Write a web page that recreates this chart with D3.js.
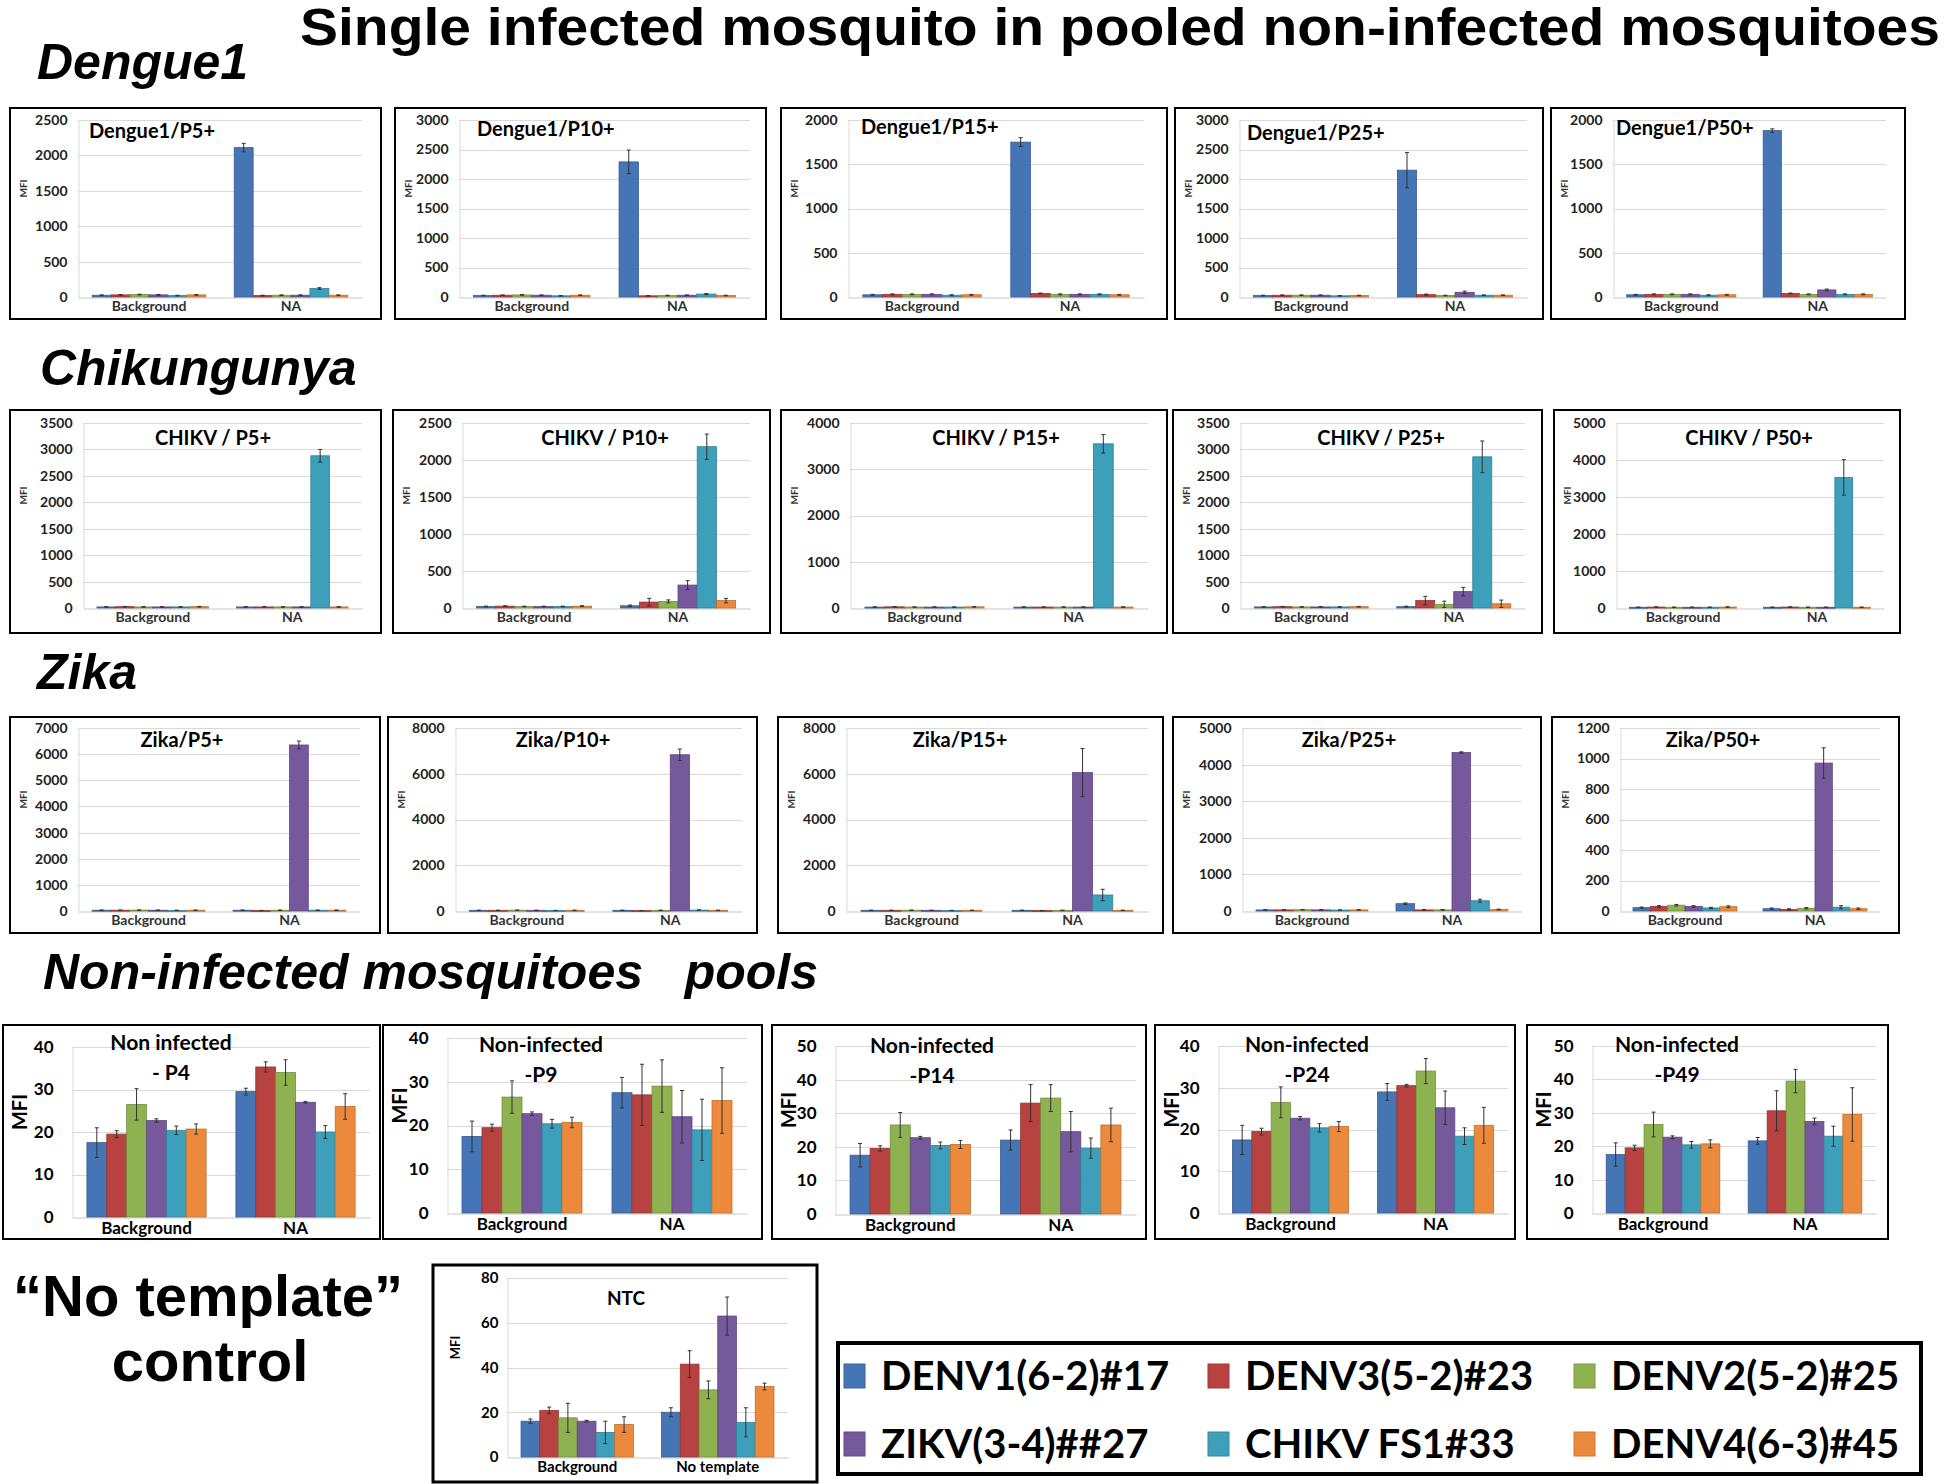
<!DOCTYPE html>
<html><head><meta charset="utf-8">
<script src="https://cdn.jsdelivr.net/npm/d3@7"></script>
<style>body{margin:0;background:#fff}svg{display:block}</style>
</head><body>
<svg id="c" width="1946" height="1484"></svg>
<script>
// ---------------- DATA ----------------
const seriesNames = ["DENV1(6-2)#17","DENV3(5-2)#23","DENV2(5-2)#25","ZIKV(3-4)##27","CHIKV FS1#33","DENV4(6-3)#45"];
const seriesColors = ["#4575b4","#b8423f","#8fb251","#76599d","#3e9fbb","#eb8a3c"];
const groupNames = ["Background","NA"];
const ntcGroupNames = ["Background","No template"];

// Dengue1 row
const dengueTitles = ["Dengue1/P5+","Dengue1/P10+","Dengue1/P15+","Dengue1/P25+","Dengue1/P50+"];
const dengueYMax = [2500,3000,2000,3000,2000];
const dengueYStep = [500,500,500,500,500];
const dengueBackground = [[25,30,35,30,20,30],[25,30,35,30,20,30],[25,30,30,30,20,25],[25,30,30,30,20,25],[25,30,30,30,20,25]];
const dengueBackgroundErr = [[5,5,5,5,5,5],[5,5,5,5,5,5],[5,5,5,5,5,5],[5,5,5,5,5,5],[5,5,5,5,5,5]];
const dengueNA = [[2110,20,25,25,120,25],[2290,20,25,30,50,25],[1750,40,30,30,30,25],[2150,40,25,80,30,30],[1880,40,30,80,30,30]];
const dengueNAErr = [[60,5,5,5,12,5],[200,5,5,5,10,5],[50,5,5,5,5,5],[300,10,5,20,5,5],[20,5,5,10,5,5]];

// Chikungunya row
const chikTitles = ["CHIKV / P5+","CHIKV / P10+","CHIKV / P15+","CHIKV / P25+","CHIKV / P50+"];
const chikYMax = [3500,2500,4000,3500,5000];
const chikYStep = [500,500,1000,500,1000];
const chikBackground = [[20,25,20,20,20,25],[20,25,20,20,20,25],[20,25,20,20,20,25],[20,25,20,20,20,25],[20,25,20,20,20,25]];
const chikBackgroundErr = [[5,5,5,5,5,5],[5,5,5,5,5,5],[5,5,5,5,5,5],[5,5,5,5,5,5],[5,5,5,5,5,5]];
const chikNA = [[20,20,20,20,2880,20],[30,80,90,310,2180,100],[20,20,20,20,3550,20],[25,140,70,310,2860,80],[20,25,20,20,3530,20]];
const chikNAErr = [[5,5,5,5,120,5],[10,50,20,60,170,30],[5,5,5,5,200,5],[10,80,60,80,300,70],[5,5,5,5,480,5]];

// Zika row
const zikaTitles = ["Zika/P5+","Zika/P10+","Zika/P15+","Zika/P25+","Zika/P50+"];
const zikaYMax = [7000,8000,8000,5000,1200];
const zikaYStep = [1000,2000,2000,1000,200];
const zikaBackground = [[30,30,35,30,25,30],[30,30,35,30,25,30],[30,30,35,30,25,30],[30,30,35,30,25,30],[22,30,38,30,20,28]];
const zikaBackgroundErr = [[5,5,5,5,5,5],[5,5,5,5,5,5],[5,5,5,5,5,5],[5,5,5,5,5,5],[4,5,5,5,4,6]];
const zikaNA = [[30,20,30,6350,30,30],[30,20,30,6830,40,30],[30,20,30,6050,700,30],[200,30,30,4330,280,40],[15,10,18,970,25,15]];
const zikaNAErr = [[5,5,5,150,5,5],[5,5,5,250,5,5],[5,5,5,1050,250,5],[20,10,10,20,40,10],[5,5,5,100,10,5]];

// Non-infected mosquito pools row
const niTitles = [["Non infected","- P4"],["Non-infected","-P9"],["Non-infected","-P14"],["Non-infected","-P24"],["Non-infected","-P49"]];
const niYMax = [40,40,50,40,50];
const niYStep = [10,10,10,10,10];
const niBackground = [[17.5,19.5,26.5,22.7,20.4,20.7],[17.5,19.5,26.5,22.7,20.4,20.7],[17.5,19.5,26.5,22.7,20.4,20.7],[17.5,19.5,26.5,22.7,20.4,20.7],[17.5,19.5,26.5,22.7,20.4,20.7]];
const niBackgroundErr = [[3.5,0.8,3.7,0.4,1,1.2],[3.5,0.8,3.7,0.4,1,1.2],[3.5,0.8,3.7,0.4,1,1.2],[3.5,0.8,3.7,0.4,1,1.2],[3.5,0.8,3.7,0.4,1,1.2]];
const niNA = [[29.5,35.3,34,27,20,26],[27.5,27,29,22,19,25.7],[22,33,34.5,24.5,19.6,26.5],[29,30.5,34,25.2,18.4,21],[21.6,30.6,39.5,27.4,23,29.5]];
const niNAErr = [[0.8,1.2,3,0.2,1.5,3],[3.5,7,6,6,7,7.5],[3,5.5,4,6,3,5],[2,0.3,3,4,2,4.3],[1,6,3.5,1,3,8]];

// No template control
const ntcTitle = "NTC";
const ntcYMax = 80, ntcYStep = 20;
const ntcBackground = [16,20.8,17.5,16,11,14.5];
const ntcBackgroundErr = [1,1.5,6.5,0.4,5,3.5];
const ntcNoTemplate = [20,41.5,30,63,15.5,31.5];
const ntcNoTemplateErr = [2,6,4,8.5,6.5,1.5];

// ---------------- LAYOUT ----------------
const svg = d3.select("#c");
const PANEL_FONT = "Lato, 'Open Sans', sans-serif";
const HEAD_FONT = "'Liberation Sans', Arial, sans-serif";

const layouts = {
  dengue: {boxY:[[108,319]], plotY:[[120,297]],
    boxX:[[10,381],[395,766],[781,1167],[1175,1543],[1551,1905]],
    plotX:[[78,362],[459,750],[848,1144],[1239,1527],[1613,1886]],
    titleX:[89,477,861,1247,1616], titleY:[131,129,127,133,128], titleAnchor:"start"},
  chik: {boxY:[[410,633]], plotY:[[423,608]],
    boxX:[[10,381],[393,770],[781,1167],[1173,1542],[1554,1900]],
    plotX:[[83,362],[462,750],[850,1148],[1240,1525],[1616,1884]],
    titleX:[213,605,996,1381,1749], titleY:[438,438,438,438,438], titleAnchor:"middle"},
  zika: {boxY:[[717,933]], plotY:[[728,911]],
    boxX:[[10,380],[388,757],[778,1163],[1173,1541],[1552,1899]],
    plotX:[[78,360],[455,742],[846,1148],[1242,1522],[1620,1880]],
    titleX:[182,563,960,1349,1713], titleY:[740,740,740,740,740], titleAnchor:"middle"}
};

const smallStyle = {tickFont:14, tickColor:"#222", tickPad:11, catFont:14, catColor:"#333", catDy:4,
  mfiFont:10, mfiColor:"#333", mfiDx:13, titleFont:20, border:2};
const bigStyle = {tickFont:17, tickColor:"#000", tickPad:19, catFont:17, catColor:"#000", catDy:4,
  mfiFont:20, mfiColor:"#000", mfiDx:17, titleFont:21, border:2};
const ntcStyle = {tickFont:15, tickColor:"#000", tickPad:9, catFont:15, catColor:"#000", catDy:4,
  mfiFont:13, mfiColor:"#000", mfiDx:22, titleFont:19, border:3};

function drawPanel(p, st) {
  const g = svg.append("g");
  const [l,t,r,b] = p.plot;
  const y = d3.scaleLinear().domain([0,p.max]).range([b,t]);
  const x0 = d3.scaleBand().domain(p.groups).range([l,r]).paddingInner(0.2).paddingOuter(0.1);
  const x1 = d3.scaleBand().domain(d3.range(seriesNames.length)).range([0,x0.bandwidth()]);
  const ticks = d3.range(0, p.max + p.step/2, p.step);

  // gridlines
  g.selectAll("line.grid").data(ticks.slice(1)).join("line")
    .attr("x1",l).attr("x2",r)
    .attr("y1",d=>Math.round(y(d))+0.5).attr("y2",d=>Math.round(y(d))+0.5)
    .attr("stroke","#d9d9d9").attr("stroke-width",1);

  // y axis
  const ax = d3.axisLeft(y).tickValues(ticks).tickSize(0).tickPadding(st.tickPad).tickFormat(d3.format("d"));
  const ag = g.append("g").attr("transform",`translate(${l+0.5},0)`).call(ax);
  ag.select(".domain").attr("stroke","#d9d9d9");
  ag.selectAll("text").attr("font-family",PANEL_FONT).attr("font-weight","bold")
    .attr("font-size",st.tickFont).attr("fill",st.tickColor);

  // x axis
  const bx = d3.axisBottom(x0).tickSize(0).tickPadding(st.catDy);
  const bg = g.append("g").attr("transform",`translate(0,${Math.round(b)+0.5})`).call(bx);
  bg.select(".domain").attr("stroke","#c8c8c8");
  bg.selectAll("text").attr("font-family",PANEL_FONT).attr("font-weight","bold")
    .attr("font-size",st.catFont).attr("fill",st.catColor);

  // bars
  const rows = [];
  p.groups.forEach((gn,gi)=>{
    p.values[gi].forEach((v,si)=>rows.push({g:gn, s:si, v:v, e:p.errs[gi][si]}));
  });
  g.selectAll("rect.bar").data(rows).join("rect")
    .attr("x",d=>x0(d.g)+x1(d.s)).attr("width",x1.bandwidth())
    .attr("y",d=>y(d.v)).attr("height",d=>Math.max(1,y(0)-y(d.v)))
    .attr("fill",d=>seriesColors[d.s])
    .attr("stroke",d=>d3.color(seriesColors[d.s]).darker(0.6)).attr("stroke-width",0.8);

  // error bars
  const eg = g.append("g").attr("stroke","#333").attr("stroke-width",1);
  rows.forEach(d=>{
    const cx = x0(d.g)+x1(d.s)+x1.bandwidth()/2;
    const y1 = y(d.v+d.e), y2 = y(Math.max(0,d.v-d.e));
    eg.append("line").attr("x1",cx).attr("x2",cx).attr("y1",y1).attr("y2",y2);
    eg.append("line").attr("x1",cx-2).attr("x2",cx+2).attr("y1",y1).attr("y2",y1);
    eg.append("line").attr("x1",cx-2).attr("x2",cx+2).attr("y1",y2).attr("y2",y2);
  });

  // MFI label
  g.append("text").attr("transform",`translate(${p.box[0]+st.mfiDx},${(t+b)/2-20}) rotate(-90)`)
    .attr("text-anchor","middle").attr("dy","0.35em")
    .attr("font-family",PANEL_FONT).attr("font-weight","bold").attr("font-size",st.mfiFont)
    .attr("fill",st.mfiColor).text("MFI");

  // title
  p.title.forEach((line,i)=>{
    g.append("text").attr("x",p.titleX).attr("y",p.titleY + i*p.titleLH).attr("dy","0.35em")
      .attr("text-anchor",p.titleAnchor)
      .attr("font-family",PANEL_FONT).attr("font-weight","bold").attr("font-size",st.titleFont)
      .attr("fill","#000").text(line);
  });

  // border
  g.append("rect").attr("x",p.box[0]).attr("y",p.box[1])
    .attr("width",p.box[2]-p.box[0]).attr("height",p.box[3]-p.box[1])
    .attr("fill","none").attr("stroke","#000").attr("stroke-width",st.border);
}

function drawRow(lay, titles, maxes, steps, bgVals, bgErrs, naVals, naErrs) {
  titles.forEach((tt,i)=>{
    drawPanel({
      box:[lay.boxX[i][0], lay.boxY[0][0], lay.boxX[i][1], lay.boxY[0][1]],
      plot:[lay.plotX[i][0], lay.plotY[0][0], lay.plotX[i][1], lay.plotY[0][1]],
      max:maxes[i], step:steps[i], groups:groupNames,
      values:[bgVals[i], naVals[i]], errs:[bgErrs[i], naErrs[i]],
      title:[tt], titleX:lay.titleX[i], titleY:lay.titleY[i], titleAnchor:lay.titleAnchor, titleLH:0
    }, smallStyle);
  });
}

drawRow(layouts.dengue, dengueTitles, dengueYMax, dengueYStep, dengueBackground, dengueBackgroundErr, dengueNA, dengueNAErr);
drawRow(layouts.chik, chikTitles, chikYMax, chikYStep, chikBackground, chikBackgroundErr, chikNA, chikNAErr);
drawRow(layouts.zika, zikaTitles, zikaYMax, zikaYStep, zikaBackground, zikaBackgroundErr, zikaNA, zikaNAErr);

// Non-infected row
const niLayout = {
  boxX:[[3,380],[383,762],[772,1146],[1155,1515],[1527,1888]], boxY:[1025,1239],
  plotX:[[72,370],[447,747],[835,1136],[1218,1508],[1592,1876]],
  plotY:[[1047,1217],[1038,1213],[1046,1214],[1046,1213],[1046,1213]],
  titleX:[171,541,932,1307,1677], titleY:[1043,1045,1046,1045,1045]
};
niTitles.forEach((tt,i)=>{
  drawPanel({
    box:[niLayout.boxX[i][0], niLayout.boxY[0], niLayout.boxX[i][1], niLayout.boxY[1]],
    plot:[niLayout.plotX[i][0], niLayout.plotY[i][0], niLayout.plotX[i][1], niLayout.plotY[i][1]],
    max:niYMax[i], step:niYStep[i], groups:groupNames,
    values:[niBackground[i], niNA[i]], errs:[niBackgroundErr[i], niNAErr[i]],
    title:tt, titleX:niLayout.titleX[i], titleY:niLayout.titleY[i], titleAnchor:"middle", titleLH:30
  }, bigStyle);
});

// NTC panel
drawPanel({
  box:[433,1265,817,1482], plot:[507,1278,788,1457],
  max:ntcYMax, step:ntcYStep, groups:ntcGroupNames,
  values:[ntcBackground, ntcNoTemplate], errs:[ntcBackgroundErr, ntcNoTemplateErr],
  title:[ntcTitle], titleX:626, titleY:1298, titleAnchor:"middle", titleLH:0
}, ntcStyle);

// ---------------- HEADINGS ----------------
svg.append("text").attr("x",300).attr("y",45)
  .attr("font-family",HEAD_FONT).attr("font-weight","bold").attr("font-size",51)
  .attr("textLength",1640).attr("lengthAdjust","spacingAndGlyphs")
  .text("Single infected mosquito in pooled non-infected mosquitoes");

const sectionHeads = [["Dengue1",37,79],["Chikungunya",40,385],["Zika",37,689],["Non-infected mosquitoes   pools",43,989]];
sectionHeads.forEach(([t,x,yy])=>{
  svg.append("text").attr("x",x).attr("y",yy).style("white-space","pre")
    .attr("font-family",HEAD_FONT).attr("font-weight","bold").attr("font-style","italic")
    .attr("font-size",50).text(t);
});

svg.append("text").attr("x",208).attr("y",1316).attr("text-anchor","middle")
  .attr("font-family",HEAD_FONT).attr("font-weight","bold").attr("font-size",58).text("\u201CNo template\u201D");
svg.append("text").attr("x",210).attr("y",1381).attr("text-anchor","middle")
  .attr("font-family",HEAD_FONT).attr("font-weight","bold").attr("font-size",58).text("control");

// ---------------- LEGEND ----------------
const lg = svg.append("g");
lg.append("rect").attr("x",838).attr("y",1343).attr("width",1083).attr("height",131)
  .attr("fill","#fff").attr("stroke","#000").attr("stroke-width",4);
const legCols = [844,1208,1574], legRows = [1376,1444];
seriesNames.forEach((n,i)=>{
  const cx = legCols[i%3], cy = legRows[Math.floor(i/3)];
  lg.append("rect").attr("x",cx).attr("y",cy-12).attr("width",21).attr("height",24)
    .attr("fill",seriesColors[i]).attr("stroke",d3.color(seriesColors[i]).darker(0.4)).attr("stroke-width",1);
  lg.append("text").attr("x",cx+37).attr("y",cy).attr("dy","0.36em")
    .attr("font-family",PANEL_FONT).attr("font-weight","bold").attr("font-size",40).attr("fill","#000").text(n);
});
</script>
</body></html>
